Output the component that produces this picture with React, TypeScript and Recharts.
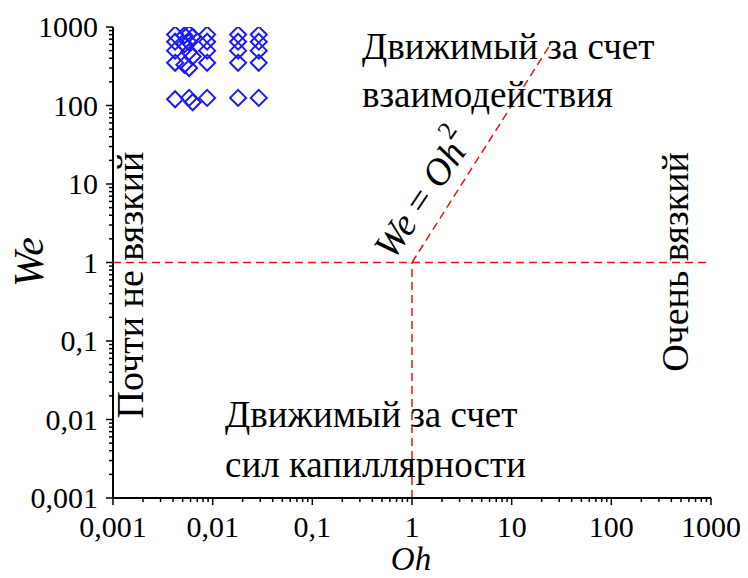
import React from "react"
import {
  ScatterChart,
  Scatter,
  XAxis,
  YAxis,
  ReferenceLine,
} from "recharts"

const ohValues = [
  0.0042, 0.0042, 0.0042, 0.0042, 0.0042,
  0.0052, 0.0052, 0.0052,
  0.0058, 0.0058, 0.0058, 0.0058, 0.0058,
  0.0063, 0.0063, 0.0063,
  0.0088, 0.0088, 0.0088, 0.0088, 0.0088,
  0.018, 0.018, 0.018, 0.018, 0.018,
  0.029, 0.029, 0.029, 0.029, 0.029,
]
const weValues = [
  800, 650, 500, 350, 120,
  780, 600, 330,
  820, 640, 480, 300, 125,
  750, 420, 110,
  800, 650, 500, 350, 125,
  800, 650, 500, 350, 125,
  800, 650, 500, 350, 125,
]

const majorTicks = [0.001, 0.01, 0.1, 1, 10, 100, 1000]
const tickLabels = ["0,001", "0,01", "0,1", "1", "10", "100", "1000"]

// regime boundaries
const horizLine = [{ x: 0.001, y: 1 }, { x: 1000, y: 1 }]
const vertLine = [{ x: 1, y: 0.001 }, { x: 1, y: 1 }]
const diagLine = [{ x: 1, y: 1 }, { x: 25, y: 625 }]

const points = ohValues.map((oh, i) => ({ oh, we: weValues[i] }))

const allTicks: number[] = []
majorTicks.forEach((t, i) => {
  allTicks.push(t)
  if (i < majorTicks.length - 1) {
    for (let k = 2; k <= 9; k++) allTicks.push(+(t * k).toPrecision(3))
  }
})

const isMajor = (v: number) => majorTicks.some((m) => Math.abs(m - v) < m * 1e-6)
const labelOf = (v: number) => tickLabels[majorTicks.findIndex((m) => Math.abs(m - v) < m * 1e-6)]

const FONT = "Liberation Serif, Tinos, Noto Serif, DejaVu Serif, Times New Roman, Times, serif"
const RED = "#ee1111"
const txt = { fontFamily: FONT }

const BottomTick = (props: any) => {
  const { x, y, payload } = props
  const major = isMajor(payload.value)
  return (
    <g>
      <line x1={x} x2={x} y1={y} y2={y + (major ? 7 : 4)} stroke="#000" strokeWidth={1.5} />
      {major && (
        <text x={x} y={y + 39} textAnchor="middle" fontSize={30} style={txt} fill="#000">
          {labelOf(payload.value)}
        </text>
      )}
    </g>
  )
}

const TopTick = (props: any) => {
  const { x, y, payload } = props
  const major = isMajor(payload.value)
  return <line x1={x} x2={x} y1={y} y2={y - (major ? 7 : 4)} stroke="#000" strokeWidth={1.5} />
}

const LeftTick = (props: any) => {
  const { x, y, payload } = props
  const major = isMajor(payload.value)
  return (
    <g>
      <line x1={x} x2={x - (major ? 7 : 4)} y1={y} y2={y} stroke="#000" strokeWidth={1.5} />
      {major && (
        <text x={x - 15} y={y + 10} textAnchor="end" fontSize={30} style={txt} fill="#000">
          {labelOf(payload.value)}
        </text>
      )}
    </g>
  )
}

const RightTick = (props: any) => {
  const { x, y, payload } = props
  const major = isMajor(payload.value)
  return <line x1={x} x2={x + (major ? 7 : 4)} y1={y} y2={y} stroke="#000" strokeWidth={1.5} />
}

const Diamond = (props: any) => {
  const { cx, cy } = props
  const r = 8
  return (
    <polygon
      points={`${cx},${cy - r} ${cx + r},${cy} ${cx},${cy + r} ${cx - r},${cy}`}
      fill="none"
      stroke="#1a1aff"
      strokeWidth={2}
    />
  )
}

export default function App() {
  const axisLine = { stroke: "#000", strokeWidth: 2 }
  return (
    <div style={{ position: "absolute", left: 0, top: 0, width: 748, height: 578, background: "#fff", fontFamily: FONT }}>
      <ScatterChart width={748} height={578} margin={{ top: 27, right: 37, bottom: 0, left: 0 }}>
        <XAxis
          xAxisId="b"
          dataKey="oh"
          type="number"
          scale="log"
          domain={[0.001, 1000]}
          allowDataOverflow
          ticks={allTicks}
          interval={0}
          tickSize={0}
          tickMargin={0}
          height={80}
          axisLine={axisLine}
          tick={<BottomTick />}
        />
        <XAxis
          xAxisId="t"
          orientation="top"
          type="number"
          scale="log"
          domain={[0.001, 1000]}
          allowDataOverflow
          ticks={allTicks}
          interval={0}
          tickSize={0}
          tickMargin={0}
          height={0}
          axisLine={axisLine}
          tick={<TopTick />}
        />
        <YAxis
          yAxisId="l"
          dataKey="we"
          type="number"
          scale="log"
          domain={[0.001, 1000]}
          allowDataOverflow
          ticks={allTicks}
          interval={0}
          tickSize={0}
          tickMargin={0}
          width={113}
          axisLine={axisLine}
          tick={<LeftTick />}
        />
        <YAxis
          yAxisId="r"
          orientation="right"
          type="number"
          scale="log"
          domain={[0.001, 1000]}
          allowDataOverflow
          ticks={allTicks}
          interval={0}
          tickSize={0}
          tickMargin={0}
          width={0}
          axisLine={axisLine}
          tick={<RightTick />}
        />
        <ReferenceLine xAxisId="b" yAxisId="l" segment={horizLine} stroke={RED} strokeWidth={1.5} strokeDasharray="8 5" />
        <ReferenceLine xAxisId="b" yAxisId="l" segment={vertLine} stroke={RED} strokeWidth={1.5} strokeDasharray="8 5" />
        <ReferenceLine xAxisId="b" yAxisId="l" segment={diagLine} stroke={RED} strokeWidth={1.5} strokeDasharray="8 5" />
        <Scatter xAxisId="b" yAxisId="l" data={points} shape={<Diamond />} isAnimationActive={false} />
      </ScatterChart>
      <svg
        width={748}
        height={578}
        style={{ position: "absolute", left: 0, top: 0, pointerEvents: "none", fontFamily: FONT }}
        fill="#000"
      >
        <text x={362} y={59} fontSize={37} style={txt}>Движимый за счет</text>
        <text x={362} y={107} fontSize={37} style={txt}>взаимодействия</text>
        <text x={225} y={427} fontSize={37} style={txt}>Движимый за счет</text>
        <text x={225} y={477} fontSize={37} style={txt}>сил капиллярности</text>
        <text x={130} y={285} fontSize={38} style={txt} textAnchor="middle" dominantBaseline="central" transform="rotate(-90 130 285)">
          Почти не вязкий
        </text>
        <text x={675} y={262} fontSize={38} style={txt} textAnchor="middle" dominantBaseline="central" transform="rotate(-90 675 262)">
          Очень вязкий
        </text>
        <text x={423} y={194} fontSize={38} style={txt} textAnchor="middle" dominantBaseline="central" transform="rotate(-56 423 194)">
          <tspan fontStyle="italic">We</tspan>
          <tspan> = </tspan>
          <tspan fontStyle="italic">Oh</tspan>
          <tspan fontSize={26} dy={-16}>2</tspan>
        </text>
        <text x={29} y={262} fontSize={42} style={txt} fontStyle="italic" textAnchor="middle" dominantBaseline="central" transform="rotate(-90 29 262)">
          We
        </text>
        <text x={411} y={570} fontSize={33} style={txt} fontStyle="italic" textAnchor="middle">
          Oh
        </text>
      </svg>
    </div>
  )
}
